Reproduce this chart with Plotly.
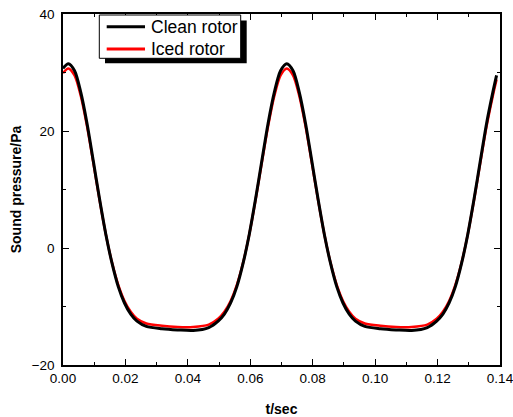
import plotly.graph_objects as go

# time samples (s)
t = [0.0, 0.0017, 0.0037, 0.0057, 0.0077, 0.0097, 0.0117, 0.0137, 0.0157, 0.0177,
     0.0197, 0.0217, 0.0237, 0.0267, 0.0317, 0.0367, 0.0417, 0.0467, 0.0497, 0.0517,
     0.0537, 0.0557, 0.0577, 0.0597, 0.0617, 0.0637, 0.0657, 0.0677, 0.0697, 0.0717,
     0.0737, 0.0757, 0.0777, 0.0797, 0.0817, 0.0837, 0.0857, 0.0877, 0.0897, 0.0917,
     0.0937, 0.0967, 0.1017, 0.1067, 0.1117, 0.1167, 0.1197, 0.1217, 0.1237, 0.1257,
     0.1277, 0.1297, 0.1317, 0.1337, 0.1357, 0.1377, 0.1389]

clean_rotor = [30.7, 31.5, 30.3, 26.6, 21.3, 14.9, 8.4, 2.4, -2.6, -6.6,
               -9.4, -11.3, -12.5, -13.4, -13.8, -14.0, -14.1, -13.6, -12.5, -11.3,
               -9.4, -6.6, -2.6, 2.4, 8.4, 14.9, 21.3, 26.6, 30.3, 31.5,
               30.3, 26.6, 21.3, 14.9, 8.4, 2.4, -2.6, -6.6, -9.4, -11.3,
               -12.5, -13.4, -13.8, -14.0, -14.1, -13.6, -12.5, -11.3, -9.4, -6.6,
               -2.6, 2.4, 8.4, 14.9, 21.3, 26.6, 29.5]

iced_rotor = [29.9, 30.7, 29.5, 26.0, 20.8, 14.6, 8.25, 2.4, -2.5, -6.3,
              -9.05, -10.9, -12.1, -12.9, -13.3, -13.5, -13.5, -13.1, -12.1, -10.9,
              -9.05, -6.3, -2.5, 2.4, 8.25, 14.6, 20.8, 26.0, 29.5, 30.7,
              29.5, 26.0, 20.8, 14.6, 8.25, 2.4, -2.5, -6.3, -9.05, -10.9,
              -12.1, -12.9, -13.3, -13.5, -13.5, -13.1, -12.1, -10.9, -9.05, -6.3,
              -2.5, 2.4, 8.25, 14.6, 20.8, 26.0, 28.8]

x_ticks = [0.0, 0.02, 0.04, 0.06, 0.08, 0.10, 0.12, 0.14]
x_tick_labels = ["0.00", "0.02", "0.04", "0.06", "0.08", "0.10", "0.12", "0.14"]
y_ticks = [-20, 0, 20, 40]

series_names = ["Clean rotor", "Iced rotor"]
series_colors = ["#000000", "#ff0000"]

FONT = "Arial, Liberation Sans, sans-serif"

fig = go.Figure()
fig.add_trace(go.Scatter(x=t, y=iced_rotor, mode="lines", name=series_names[1],
                         line=dict(color=series_colors[1], width=2.5, shape="spline", smoothing=0.8)))
fig.add_trace(go.Scatter(x=t, y=clean_rotor, mode="lines", name=series_names[0],
                         line=dict(color=series_colors[0], width=3, shape="spline", smoothing=0.8)))

axis_common = dict(showline=True, linecolor="black", linewidth=1.5, mirror="ticks",
                   ticks="inside", ticklen=6, tickwidth=1.2, tickcolor="black",
                   showgrid=False, zeroline=False, automargin=False,
                   ticklabeloverflow="allow",
                   tickfont=dict(family=FONT, size=13.5, color="black"))

fig.update_xaxes(range=[0, 0.14], tickmode="array", tickvals=x_ticks, ticktext=x_tick_labels,
                 minor=dict(dtick=0.01, tick0=0, ticks="inside", ticklen=3, tickcolor="black", tickwidth=1.2),
                 title=dict(text="<b>t/sec</b>", font=dict(family=FONT, size=14, color="black"), standoff=20),
                 **axis_common)
fig.update_yaxes(range=[-20, 40], tickmode="array", tickvals=y_ticks, ticklabelstandoff=4,
                 minor=dict(dtick=10, tick0=0, ticks="inside", ticklen=3, tickcolor="black", tickwidth=1.2),
                 title=dict(text="<b>Sound pressure/Pa</b>", font=dict(family=FONT, size=14, color="black"), standoff=7),
                 **axis_common)

# ---- legend drawn as a framed box with drop shadow (pixel -> paper helpers)
L, T, W, H = 63, 14, 437, 351
def px(x):
    return (x - L) / W
def py(y):
    return (T + H - y) / H

fig.add_shape(type="rect", xref="paper", yref="paper",
              x0=px(105), x1=px(246.7), y0=py(63.3), y1=py(20.5),
              fillcolor="black", line=dict(width=0), layer="above")
fig.add_shape(type="rect", xref="paper", yref="paper",
              x0=px(99.3), x1=px(240.7), y0=py(58.3), y1=py(15),
              fillcolor="white", line=dict(color="black", width=1), layer="above")
for i, (name, col) in enumerate(zip(series_names, series_colors)):
    yy = 26.7 + i * 22.3
    fig.add_shape(type="line", xref="paper", yref="paper",
                  x0=px(106.7), x1=px(145), y0=py(yy), y1=py(yy),
                  line=dict(color=col, width=3), layer="above")
    fig.add_annotation(xref="paper", yref="paper", x=px(148.5), y=py(yy),
                       xanchor="left", yanchor="middle", showarrow=False,
                       text=name, font=dict(family=FONT, size=17.5, color="black"))

fig.update_layout(
    width=513, height=417,
    margin=dict(l=63, r=13, t=14, b=52),
    paper_bgcolor="white", plot_bgcolor="white",
    font=dict(family=FONT, size=13, color="black"),
    showlegend=False,
)

fig.write_html("out.html", config={"displayModeBar": False},
               post_script="document.body.style.margin='0';document.body.style.overflow='hidden';")
